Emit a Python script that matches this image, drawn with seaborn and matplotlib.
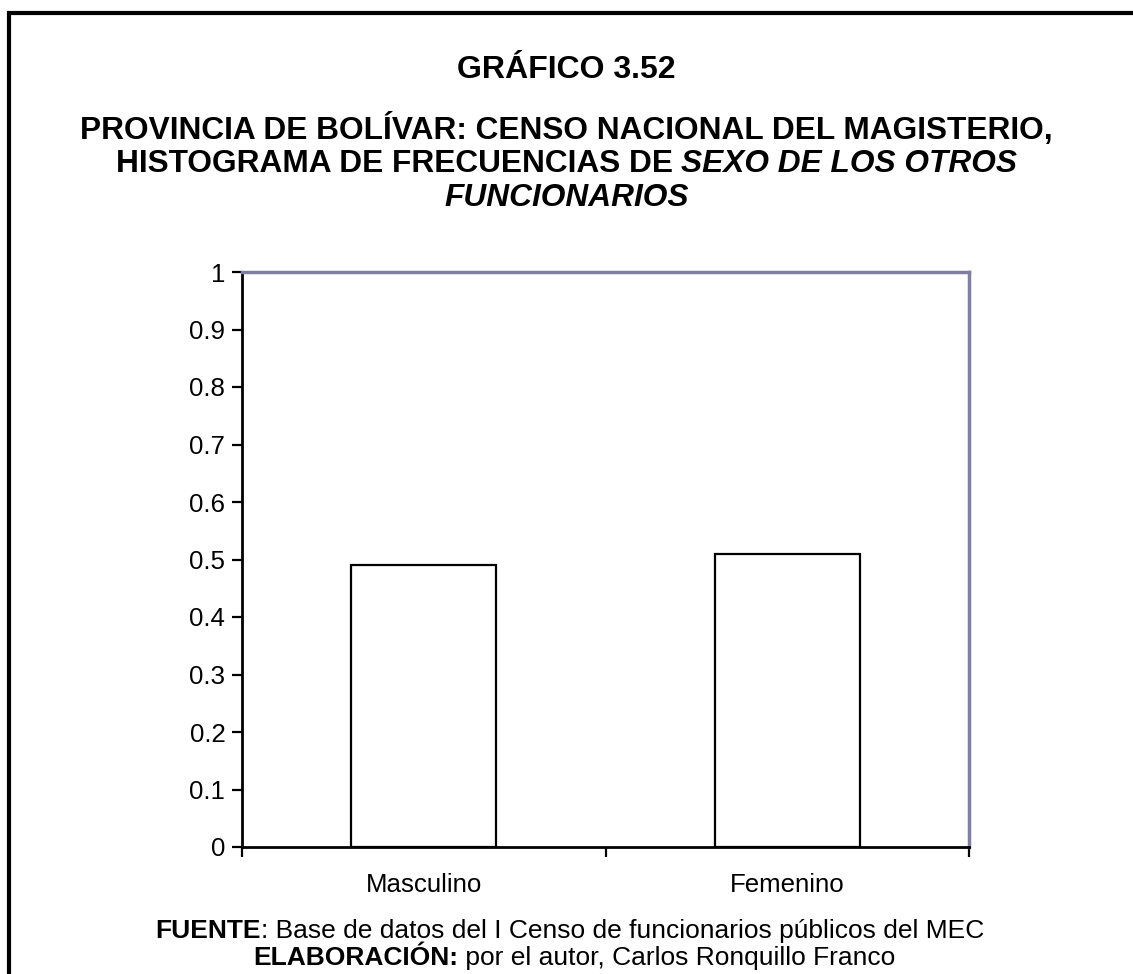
import matplotlib
matplotlib.use('Agg')
import matplotlib.pyplot as plt
import seaborn as sns
import pandas as pd
from matplotlib.patches import Rectangle

# datos del grafico
categorias = ['Masculino', 'Femenino']
frecuencias = [0.49, 0.51]
yticks = [0, 0.1, 0.2, 0.3, 0.4, 0.5, 0.6, 0.7, 0.8, 0.9, 1]
ytick_labels = ['0', '0.1', '0.2', '0.3', '0.4', '0.5', '0.6', '0.7', '0.8', '0.9', '1']

df = pd.DataFrame({'sexo': categorias, 'frec': frecuencias})

sns.set_style('white')
plt.rcParams['font.family'] = ['Liberation Sans', 'DejaVu Sans']
plt.rcParams['text.color'] = 'black'
plt.rcParams['xtick.color'] = 'black'
plt.rcParams['ytick.color'] = 'black'

W, H = 1133, 974
fig = plt.figure(figsize=(W / 100, H / 100), dpi=100)
ax = fig.add_axes([242 / W, 1 - 847 / H, (969 - 242) / W, (847 - 272) / H])

sns.barplot(data=df, x='sexo', y='frec', ax=ax, width=0.4, color='white',
            edgecolor='black', linewidth=1.6, saturation=1)

ax.set_xlim(-0.5, 1.5)
ax.set_ylim(0, 1)
ax.set_xlabel('')
ax.set_ylabel('')

# ejes
for s in ['left', 'bottom']:
    ax.spines[s].set_color('black')
    ax.spines[s].set_linewidth(2)
for s in ['top', 'right']:
    ax.spines[s].set_color('#7f7fa0')
    ax.spines[s].set_linewidth(2.5)
    ax.spines[s].set_visible(True)

ax.set_yticks(yticks)
ax.set_yticklabels(ytick_labels, fontsize=18.6, color='black')
ax.tick_params(axis='y', direction='out', length=7, width=1.6, color='black', pad=5, left=True)

ax.set_xticks([-0.5, 0.5, 1.5])
ax.set_xticklabels(['', '', ''])
ax.set_xticks([0, 1], minor=True)
ax.set_xticklabels(categorias, minor=True, fontsize=18.6, color='black')
ax.tick_params(axis='x', which='major', direction='out', length=7, width=1.6, color='black', bottom=True)
ax.tick_params(axis='x', which='minor', length=0, pad=19)

# marco
fig.patches.append(Rectangle((9 / W, -0.1), 1.2, 1 - 13 / H + 0.1, transform=fig.transFigure,
                             fill=False, edgecolor='black', linewidth=3))

# titulos
fig.text(0.5, 1 - 70 / H, 'GRÁFICO 3.52', ha='center', va='center', fontsize=23, fontweight='bold')
fig.text(0.5, 1 - 130 / H, 'PROVINCIA DE BOLÍVAR: CENSO NACIONAL DEL MAGISTERIO,',
         ha='center', va='center', fontsize=22.8, fontweight='bold')

renderer = fig.canvas.get_renderer()


def linea(y, partes, size, dx=0):
    # dibuja una linea centrada con partes de distinto estilo
    textos = []
    for txt, peso, estilo in partes:
        t = fig.text(0, y, txt, ha='left', va='baseline', fontsize=size, fontweight=peso, fontstyle=estilo)
        textos.append(t)
    anchos = [t.get_window_extent(renderer).width for t in textos]
    x = (W - sum(anchos)) / 2 + dx
    for t, a in zip(textos, anchos):
        t.set_x(x / W)
        x += a


linea(1 - 172 / H, [('HISTOGRAMA DE FRECUENCIAS DE ', 'bold', 'normal'),
                    ('SEXO DE LOS OTROS', 'bold', 'italic')], 22.8)
linea(1 - 206 / H, [('FUNCIONARIOS', 'bold', 'italic')], 22.8)

linea(1 - 938 / H, [('FUENTE', 'bold', 'normal'),
                    (': Base de datos del I Censo de funcionarios públicos del MEC', 'normal', 'normal')], 19, dx=3)
linea(1 - 965 / H, [('ELABORACIÓN:', 'bold', 'normal'),
                    (' por el autor, Carlos Ronquillo Franco', 'normal', 'normal')], 19, dx=8)

fig.savefig('out.png', dpi=100)
